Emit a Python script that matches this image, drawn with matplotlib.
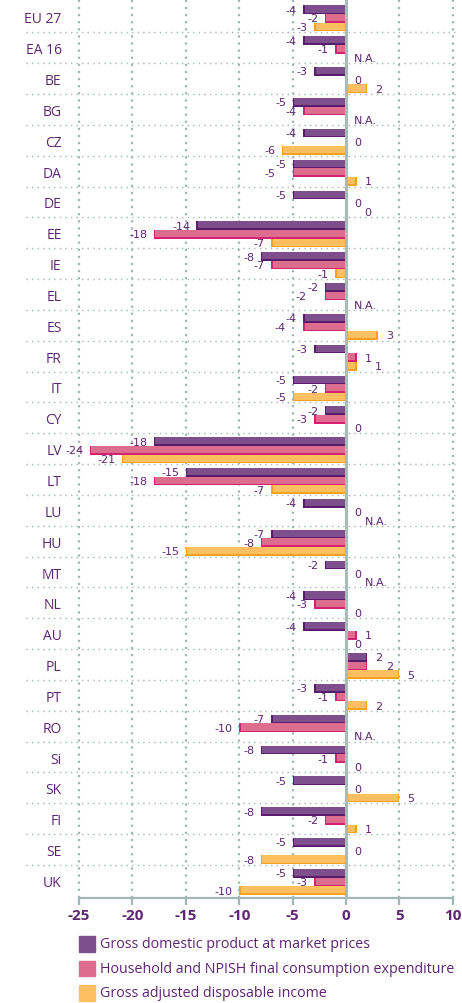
import matplotlib.pyplot as plt
from matplotlib.patches import Rectangle

plt.rcParams['axes.unicode_minus'] = False

countries = ['EU 27', 'EA 16', 'BE', 'BG', 'CZ', 'DA', 'DE', 'EE', 'IE', 'EL',
             'ES', 'FR', 'IT', 'CY', 'LV', 'LT', 'LU', 'HU', 'MT', 'NL',
             'AU', 'PL', 'PT', 'RO', 'Si', 'SK', 'FI', 'SE', 'UK']
gdp = [-4, -4, -3, -5, -4, -5, -5, -14, -8, -2,
       -4, -3, -5, -2, -18, -15, -4, -7, -2, -4,
       -4, 2, -3, -7, -8, -5, -8, -5, -5]
consumption = [-2, -1, 0, -4, 0, -5, 0, -18, -7, -2,
               -4, 1, -2, -3, -24, -18, 0, -8, 0, -3,
               1, 2, -1, -10, -1, 0, -2, 0, -3]
income = [-3, None, 2, None, -6, 1, 0, -7, -1, None,
          3, 1, -5, 0, -21, -7, None, -15, None, 0,
          0, 5, 2, None, 0, 5, 1, -8, -10]
series_names = ['Gross domestic product at market prices',
                'Household and NPISH final consumption expenditure',
                'Gross adjusted disposable income']
xticks = [-25, -20, -15, -10, -5, 0, 5, 10]

# (fill, darker edge) per series
colours = [('#7d4f8d', '#5a1b6b'),
           ('#dd6d8f', '#d42270'),
           ('#fdbf62', '#f5a21c')]
text_col = '#5d2672'
grid_col = '#a2b7b3'
label_font = ['Liberation Sans Narrow', 'DejaVu Sans']
main_font = ['Open Sans', 'DejaVu Sans']

fig = plt.figure(figsize=(4.62, 10.04), dpi=100)
ax = fig.add_axes([0.1665, 0.1046, 0.818, 0.8954])
ax.set_xlim(-25.2, 10.2)
ax.set_ylim(28.57, -0.58)

bar_h = 0.28
offsets = [-0.23, 0.05, 0.33]
dx, dy = 0.15, 0.05

for k, values in enumerate([gdp, consumption, income]):
    fill, edge = colours[k]
    for i, v in enumerate(values):
        if not v:
            continue
        y = i + offsets[k]
        sign = 1 if v > 0 else -1
        ax.barh(y, v, height=bar_h, color=edge, zorder=2)
        ax.barh(y - dy / 2, v - sign * dx, height=bar_h - dy, color=fill, zorder=2)


def label_width(txt):
    # rough width of a value label in x units
    return 0.45 * len(txt)


# value labels; a label steps sideways when it would run into the one above
for i in range(len(countries)):
    prev_left = None    # (right edge, width) of a label left of its bar
    prev_right = None   # left edge of a label right of the zero line
    for k, values in enumerate([gdp, consumption, income]):
        v = values[i]
        y = i + offsets[k]
        txt = 'N.A.' if v is None else str(v)
        w = label_width(txt)
        if v is not None and v < 0:
            x = v - 0.6
            if prev_left is not None:
                px, pw = prev_left
                if x - w < px and x > px - pw:
                    x = px - pw - 0.15
            ax.text(x, y, txt, ha='right', va='center', fontsize=8,
                    color=text_col, family=label_font, zorder=4)
            prev_left, prev_right = (x, w), None
            continue
        x = (v or 0) + 0.75
        if prev_right is not None and abs(x - prev_right) < 0.9:
            x = prev_right + 1.0
        ax.text(x, y, txt, ha='left', va='center', fontsize=8,
                color=text_col, family=label_font, zorder=4)
        prev_left, prev_right = None, x

# dotted grid and group separators
for t in xticks:
    if t != 0:
        ax.axvline(t, color=grid_col, lw=1.6, ls=(0, (1, 2.2)), zorder=1)
for i in range(len(countries) - 1):
    ax.plot([-0.135, 1.0], [i + 0.5, i + 0.5], transform=ax.get_yaxis_transform(),
            color=grid_col, lw=1.0, ls=(0, (1, 3)), clip_on=False, zorder=1)
ax.axvline(0, color='#a7bbb7', lw=2.2, zorder=3)

for side in ['top', 'right', 'left']:
    ax.spines[side].set_visible(False)
ax.spines['bottom'].set_color(grid_col)
ax.spines['bottom'].set_linewidth(1.6)
ax.spines['bottom'].set_bounds(-25, 10)

ax.set_xticks(xticks)
ax.set_xticklabels([str(t) for t in xticks], fontsize=11, fontweight='bold',
                   color=text_col, family=main_font)
ax.tick_params(axis='x', direction='out', length=5, width=1.6, color=grid_col, pad=2)
ax.set_yticks(range(len(countries)))
ax.set_yticklabels(countries, fontsize=10, color=text_col, family=main_font)
ax.tick_params(axis='y', length=0, pad=11)

# legend below the axis
W, H = 462, 1004
for k, name in enumerate(series_names):
    cy = 945 + 24.5 * k
    fig.add_artist(Rectangle((79 / W, 1 - (cy + 7.7) / H), 15.5 / W, 15.5 / H,
                             transform=fig.transFigure, color=colours[k][0]))
    fig.text(100.5 / W, 1 - cy / H, name, ha='left', va='center', fontsize=10.3,
             color=text_col, family=main_font)

fig.savefig('out.png', dpi=100)
